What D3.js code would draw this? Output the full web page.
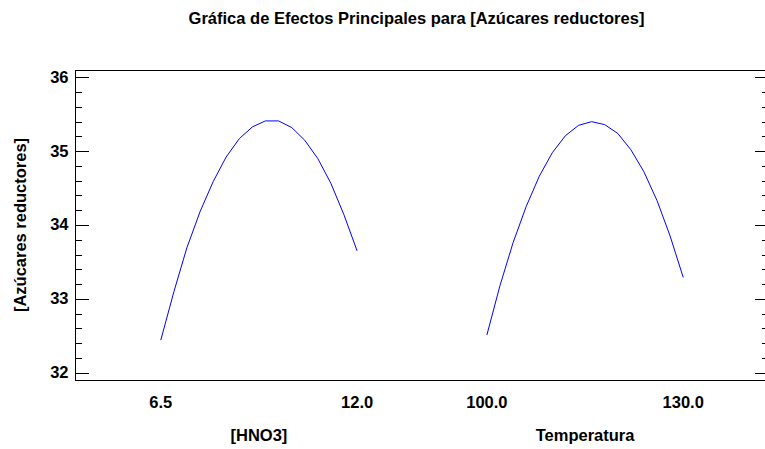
<!DOCTYPE html>
<html>
<head>
<meta charset="utf-8">
<script src="https://cdn.jsdelivr.net/npm/d3@7"></script>
<style>
  html, body { margin: 0; padding: 0; background: #fff; }
  svg { display: block; }
  text { font-family: "Liberation Sans", Arial, sans-serif; font-weight: bold; fill: #000; }
</style>
</head>
<body>
<svg id="chart" width="765" height="449"></svg>
<script>
// Main effects of each factor on the response
const title = "Gráfica de Efectos Principales para [Azúcares reductores]";
const yTitle = "[Azúcares reductores]";
const factors = ["[HNO3]", "Temperatura"];

// [HNO3] levels and fitted response
const hno3Levels = [6.50, 6.87, 7.23, 7.60, 7.97, 8.33, 8.70, 9.07, 9.43, 9.80, 10.17, 10.53, 10.90, 11.27, 11.63, 12.00];
const hno3Effect = [32.44, 33.10, 33.69, 34.18, 34.59, 34.92, 35.17, 35.33, 35.41, 35.41, 35.32, 35.15, 34.90, 34.56, 34.14, 33.65];

// Temperatura levels and fitted response
const tempLevels = [100, 102, 104, 106, 108, 110, 112, 114, 116, 118, 120, 122, 124, 126, 128, 130];
const tempEffect = [32.51, 33.18, 33.76, 34.25, 34.66, 34.98, 35.21, 35.35, 35.40, 35.36, 35.24, 35.02, 34.72, 34.33, 33.85, 33.29];

// Low / high level labels for each factor
const hno3Ticks = [6.5, 12.0];
const tempTicks = [100.0, 130.0];

const yDomain = [31.9, 36.1];
const yMajorTicks = [32, 33, 34, 35, 36];

const series = [
  { name: factors[0], levels: hno3Levels, effect: hno3Effect, ticks: hno3Ticks },
  { name: factors[1], levels: tempLevels, effect: tempEffect, ticks: tempTicks }
];

const svg = d3.select("#chart");
const plot = { left: 75, right: 769, top: 70, bottom: 380 };
const fontSize = 16.5;

const y = d3.scaleLinear().domain(yDomain).range([plot.bottom, plot.top]);

// One band per factor across the horizontal extent
const band = d3.scaleBand()
  .domain(factors)
  .range([plot.left, plot.right])
  .paddingInner(0.398)
  .paddingOuter(0.263);

// Frame
svg.append("path")
  .attr("d", `M${plot.right},${plot.top}H${plot.left}V${plot.bottom}H${plot.right}`)
  .attr("fill", "none")
  .attr("stroke", "#000")
  .attr("stroke-width", 1)
  .attr("shape-rendering", "crispEdges");

// Minor ticks every 0.2
const minorTicks = d3.range(32, 36.0001, 0.2).map(v => +v.toFixed(1))
  .filter(v => !yMajorTicks.includes(v));

const leftAxis = d3.axisRight(y).tickValues(yMajorTicks).tickSize(14).tickFormat("");
const leftMinor = d3.axisRight(y).tickValues(minorTicks).tickSize(7).tickFormat("");
const rightAxis = d3.axisLeft(y).tickValues(yMajorTicks).tickSize(14).tickFormat("");
const rightMinor = d3.axisLeft(y).tickValues(minorTicks).tickSize(7).tickFormat("");

[[leftAxis, plot.left], [leftMinor, plot.left], [rightAxis, plot.right], [rightMinor, plot.right]]
  .forEach(([ax, x0]) => {
    const g = svg.append("g").attr("transform", `translate(${x0},0)`).call(ax);
    g.select(".domain").remove();
    g.selectAll("line").attr("stroke", "#000").attr("shape-rendering", "crispEdges");
  });

// Y tick labels
svg.append("g").selectAll("text")
  .data(yMajorTicks)
  .join("text")
  .attr("x", 68.5)
  .attr("y", d => y(d))
  .attr("dy", "0.33em")
  .attr("text-anchor", "end")
  .attr("font-size", fontSize)
  .text(d => d);

// Effect curves with their level labels and factor names
const fmt = d3.format(".1f");
series.forEach(s => {
  const x = d3.scaleLinear()
    .domain([s.levels[0], s.levels[s.levels.length - 1]])
    .range([band(s.name), band(s.name) + band.bandwidth()]);

  const line = d3.line()
    .x((d, i) => x(s.levels[i]))
    .y(d => y(d));

  svg.append("path")
    .datum(s.effect)
    .attr("d", line)
    .attr("fill", "none")
    .attr("stroke", "#0000ff")
    .attr("stroke-width", 1);

  svg.append("g").selectAll("text")
    .data(s.ticks)
    .join("text")
    .attr("x", d => x(d))
    .attr("y", 407.5)
    .attr("text-anchor", "middle")
    .attr("font-size", fontSize)
    .text(d => fmt(d));

  svg.append("text")
    .attr("x", band(s.name) + band.bandwidth() / 2)
    .attr("y", 441)
    .attr("text-anchor", "middle")
    .attr("font-size", fontSize)
    .text(s.name);
});

// Y axis title
svg.append("text")
  .attr("transform", `translate(26,${(plot.top + plot.bottom) / 2}) rotate(-90)`)
  .attr("text-anchor", "middle")
  .attr("font-size", fontSize)
  .text(yTitle);

// Chart title
svg.append("text")
  .attr("x", 416.5)
  .attr("y", 24)
  .attr("text-anchor", "middle")
  .attr("font-size", fontSize)
  .text(title);
</script>
</body>
</html>
